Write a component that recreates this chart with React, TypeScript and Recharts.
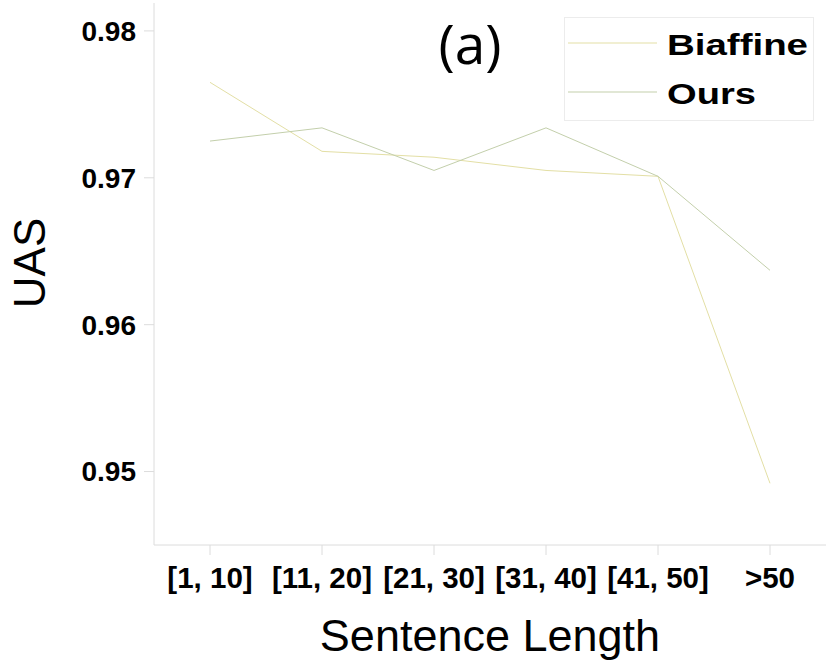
import React from 'react';
import { LineChart, Line, XAxis, YAxis, Label } from 'recharts';

const categories = ['[1, 10]', '[11, 20]', '[21, 30]', '[31, 40]', '[41, 50]', '>50'];
const biaffine = [0.9765, 0.9718, 0.9714, 0.9705, 0.9701, 0.9492];
const ours = [0.9725, 0.9734, 0.9705, 0.9734, 0.9701, 0.9637];
const yTicks = [0.95, 0.96, 0.97, 0.98];
const yDomain: [number, number] = [0.945, 0.9819];

const data = categories.map((name, i) => ({ name, biaffine: biaffine[i], ours: ours[i] }));

const FONT = '"Liberation Sans", Arial, Helvetica, sans-serif';
const BIAFFINE_COLOR = '#e3dfa5';
const OURS_COLOR = '#c3cfab';
const FRAME = '#dcdcdc';

const LegendBox = () => (
  <svg width={250} height={104} style={{ display: 'block' }}>
    <rect x={0.5} y={0.5} width={249} height={103} fill="#fff" stroke="#ececec" />
    <line x1={4} x2={93} y1={26} y2={26} stroke={BIAFFINE_COLOR} strokeWidth={1} />
    <text x={103} y={38} fontFamily={FONT} fontWeight="bold" fontSize={29} fill="#000"
      textLength={141} lengthAdjust="spacingAndGlyphs">Biaffine</text>
    <line x1={4} x2={93} y1={75} y2={75} stroke={OURS_COLOR} strokeWidth={1} />
    <text x={103} y={87} fontFamily={FONT} fontWeight="bold" fontSize={29} fill="#000"
      textLength={89} lengthAdjust="spacingAndGlyphs">Ours</text>
  </svg>
);

export default function App() {
  return (
    <div style={{ position: 'absolute', left: 0, top: 0, width: 830, height: 663, background: '#fff' }}>
      <LineChart width={830} height={663} data={data} margin={{ top: 3, right: 4, left: 4, bottom: 0 }}>
        <XAxis
          dataKey="name"
          height={118}
          padding={{ left: 56, right: 56 }}
          axisLine={{ stroke: FRAME }}
          tickLine={{ stroke: FRAME }}
          tickSize={10}
          tickMargin={12}
          tick={{ fill: '#000', fontSize: 29.5, fontWeight: 'bold', fontFamily: FONT }}
          interval={0}
        >
          <Label
            content={({ viewBox }: any) => (
              <text x={viewBox.x + viewBox.width / 2} y={viewBox.y + 106} textAnchor="middle"
                fontFamily={FONT} fontSize={45} fill="#000">Sentence Length</text>
            )}
          />
        </XAxis>
        <XAxis xAxisId="top" dataKey="name" orientation="top" height={0} tick={false} tickLine={false} axisLine={{ stroke: FRAME }} />
        <YAxis
          width={150}
          domain={yDomain}
          ticks={yTicks}
          allowDataOverflow
          axisLine={{ stroke: FRAME }}
          tickLine={{ stroke: FRAME }}
          tickSize={10}
          tickMargin={8}
          tick={{ fill: '#000', fontSize: 28, fontWeight: 'bold', fontFamily: FONT }}
          tickFormatter={(v: number) => v.toFixed(2)}
        >
          <Label
            content={() => (
              <text x={45} y={263} transform="rotate(-90 45 263)" textAnchor="middle"
                fontFamily={FONT} fontSize={44} fill="#000">UAS</text>
            )}
          />
        </YAxis>
        <YAxis yAxisId="right" orientation="right" width={0} domain={yDomain} tick={false} tickLine={false} axisLine={{ stroke: FRAME }} />
        <Line type="linear" dataKey="biaffine" name="Biaffine" stroke={BIAFFINE_COLOR} strokeWidth={1} dot={false} activeDot={false} isAnimationActive={false} />
        <Line type="linear" dataKey="ours" name="Ours" stroke={OURS_COLOR} strokeWidth={1} dot={false} activeDot={false} isAnimationActive={false} />
      </LineChart>
      <div style={{ position: 'absolute', left: 564, top: 17 }}>
        <LegendBox />
      </div>
      <div style={{ position: 'absolute', left: 410, top: 8, width: 120, textAlign: 'center', fontFamily: '"Open Sans", sans-serif', fontSize: 55, lineHeight: '70px', color: '#000' }}>
        (a)
      </div>
    </div>
  );
}
